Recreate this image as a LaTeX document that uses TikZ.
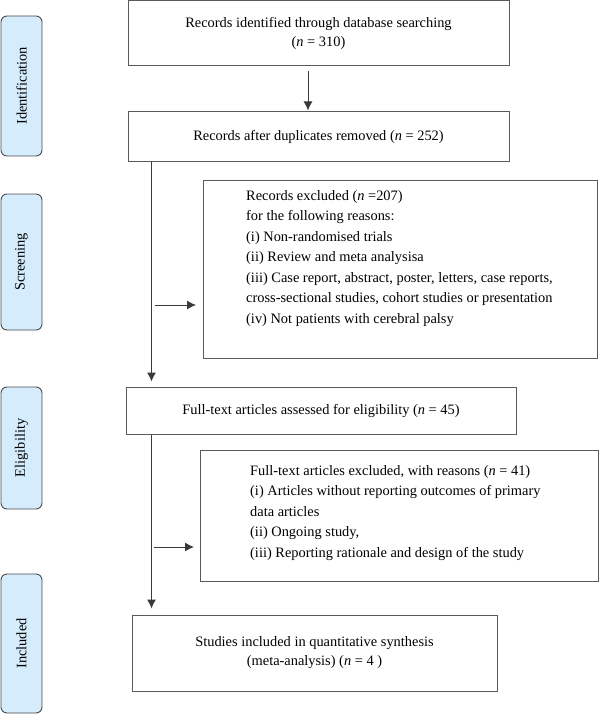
\documentclass[tikz,border=0pt]{standalone}
\usepackage{fontspec}
\setmainfont{Liberation Serif}
\usetikzlibrary{arrows.meta}
\definecolor{sidefill}{HTML}{D4ECFC}
\definecolor{sideline}{HTML}{4A4A4A}
\definecolor{boxline}{HTML}{5A5A5A}
\definecolor{connline}{HTML}{3A3A3A}
\begin{document}
\begin{tikzpicture}[x=1pt,y=-1pt,
  font=\fontsize{14.4}{20.5}\selectfont,
  box/.style={draw=boxline, line width=1pt, inner sep=0pt, align=center},
  twoline/.style={font=\fontsize{14.4}{19}\selectfont},
  side/.style={draw=sideline, fill=sidefill, rounded corners=6pt, line width=0.9pt, minimum width=41pt},
  sidetext/.style={rotate=90},
  reasons/.style={anchor=north west, align=left, inner sep=0pt},
  conn/.style={draw=connline, line width=1pt},
  arr/.style={conn, -{Latex[length=9pt,width=9pt]}}]
\useasboundingbox (0,0) rectangle (600,714);
% side bars
\node[side, minimum height=140pt] (sid) at (21.5,86) {};
\node[sidetext] (sidt) at (sid.center) {Identification};
\node[side, minimum height=136pt] (ssc) at (21.5,262) {};
\node[sidetext] (ssct) at (ssc.center) {Screening};
\node[side, minimum height=122pt] (sel) at (21.5,448) {};
\node[sidetext] (selt) at (sel.center) {Eligibility};
\node[side, minimum height=139pt] (sin) at (21.5,643.5) {};
\node[sidetext] (sint) at (sin.center) {Included};
% main boxes
\node[box, twoline, minimum width=381pt, minimum height=65pt] (b1) at (318.5,33.5)
  {Records identified through database searching\\(\textit{n} = 310)};
\node[box, minimum width=381pt, minimum height=50pt] (b2) at (318.5,137)
  {Records after duplicates removed (\textit{n} = 252)};
\node[box, minimum width=390pt, minimum height=47pt] (b3) at (321,410.5)
  {Full-text articles assessed for eligibility (\textit{n} = 45)};
\node[box, twoline, minimum width=365pt, minimum height=76pt] (b4) at (314.5,653)
  {Studies included in quantitative synthesis\\(meta-analysis) (\textit{n} = 4 )};
% exclusion boxes
\node[box, anchor=north west, minimum width=394pt, minimum height=178pt] (ex1) at (203,180) {};
\node[reasons] (ex1t) at (246,190)
  {Records excluded (\textit{n} =207)\\
   for the following reasons:\\
   (i) Non-randomised trials\\
   (ii) Review and meta analysisa\\
   (iii) Case report, abstract, poster, letters, case reports,\\
   cross-sectional studies, cohort studies or presentation\\
   (iv) Not patients with cerebral palsy};
\node[box, anchor=north west, minimum width=398pt, minimum height=131pt] (ex2) at (200,450) {};
\node[reasons] (ex2t) at (250,465)
  {Full-text articles excluded, with reasons (\textit{n} = 41)\\
   (i) Articles without reporting outcomes of primary\\
   data articles\\
   (ii) Ongoing study,\\
   (iii) Reporting rationale and design of the study};
% connectors
\coordinate (a1) at (308,0);
\coordinate (spine) at (151.5,0);
\coordinate (h1) at (155,305);
\coordinate (h2) at (154,547);
\draw[arr, shorten <=5pt, shorten >=1pt] (b1.south -| a1) -- (b2.north -| a1);
\draw[arr, shorten >=5pt] (b2.south -| spine) -- (b3.north -| spine);
\draw[arr, shorten >=7pt] (h1) -- (ex1.west |- h1);
\draw[arr, shorten >=6pt] (b3.south -| spine) -- (b4.north -| spine);
\draw[arr, shorten >=6pt] (h2) -- (ex2.west |- h2);
\end{tikzpicture}
\end{document}
